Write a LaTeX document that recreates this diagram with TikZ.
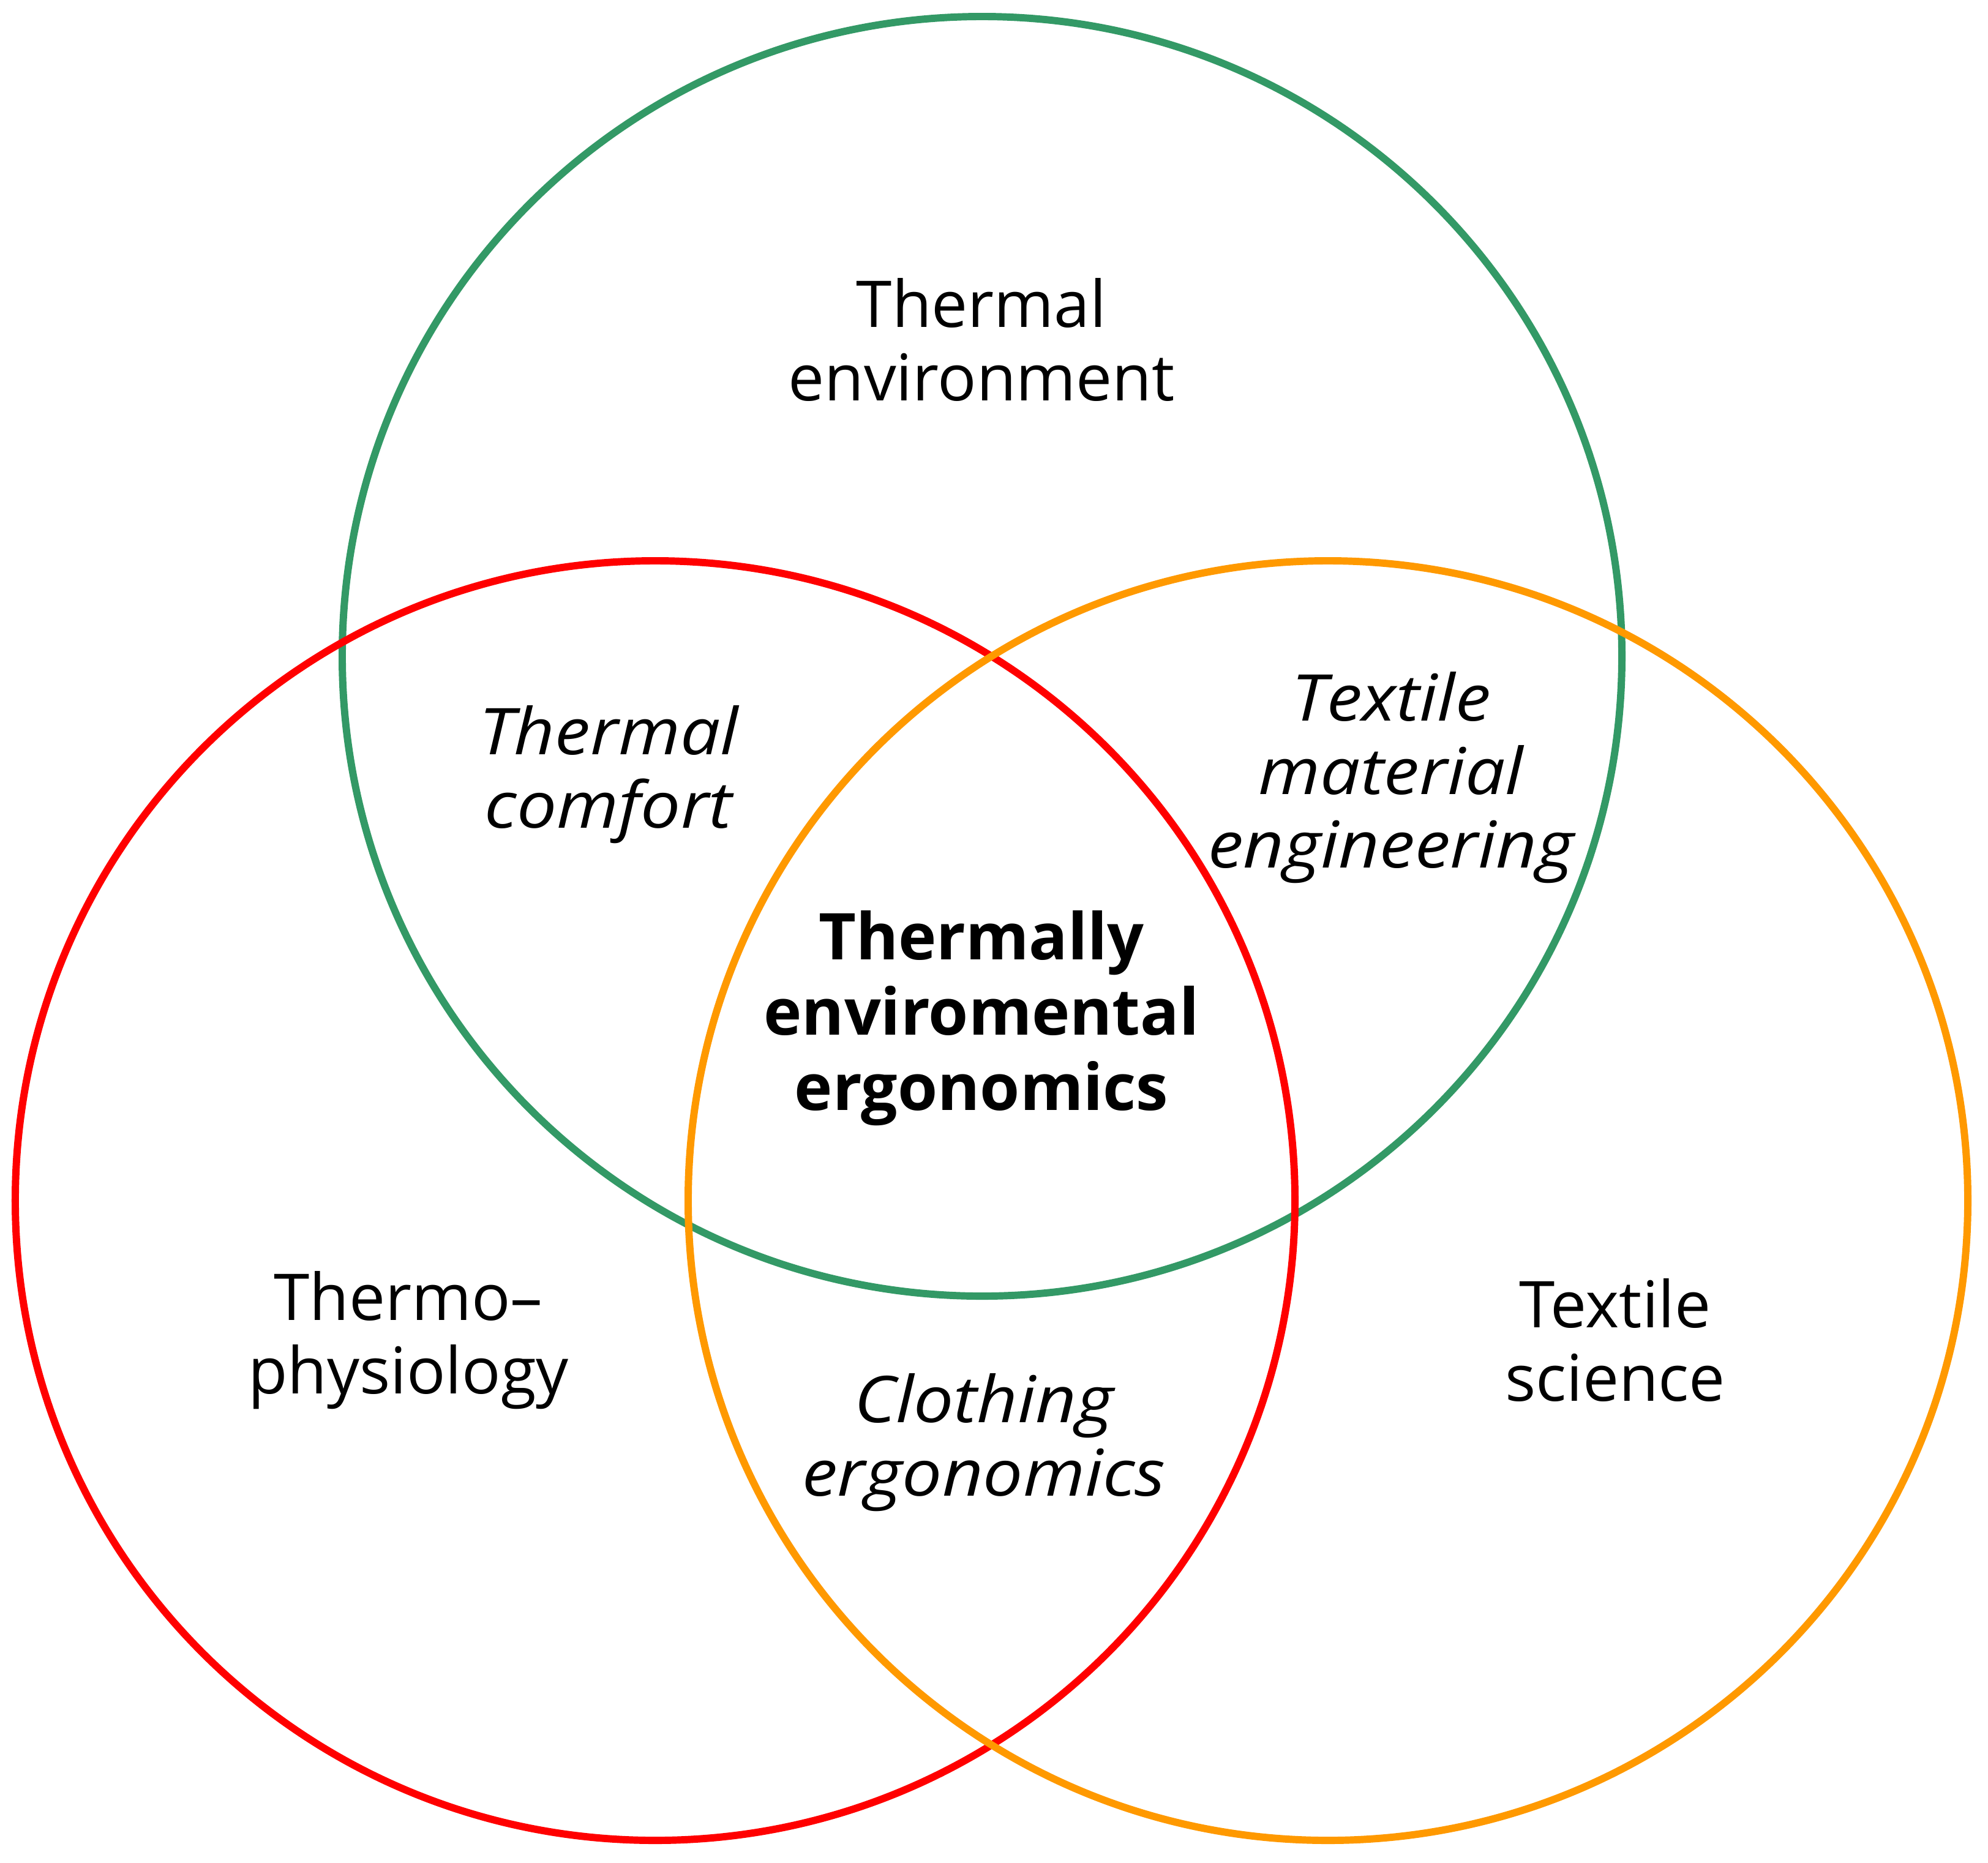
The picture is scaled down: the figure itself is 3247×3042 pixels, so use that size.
\documentclass[tikz,border=0pt]{standalone}
\usepackage{fontspec}
\setmainfont{Open Sans}
\usepackage{tikz}
\definecolor{envgreen}{HTML}{339966}
\definecolor{physred}{HTML}{FF0000}
\definecolor{texorange}{HTML}{FF9900}
\tikzset{ring/.style={line width=1.7pt},lbl/.style={align=center,font=\fontsize{15}{17.1}\selectfont,inner sep=0pt},ilbl/.style={lbl,font=\fontsize{15}{17.1}\selectfont\itshape\addfontfeature{FakeStretch=1.1}},blbl/.style={lbl,font=\fontsize{15}{17.5}\selectfont\bfseries}}

\begin{document}
\begin{tikzpicture}[x=0.005cm,y=-0.005cm]
\useasboundingbox (0,0) rectangle (3247,3042);
\coordinate (cenv) at (1604,1072);
\coordinate (cphys) at (1070,1961);
\coordinate (ctex) at (2169,1961);
\draw[ring,draw=envgreen] (cenv) circle[radius=5.23cm];
\draw[ring,draw=physred] (cphys) circle[radius=5.23cm];
\draw[ring,draw=texorange] (ctex) circle[radius=5.23cm];
\node[lbl] (env) at (1603,555) {Thermal\\environment};
\node[ilbl] (comfort) at (994,1265) {Thermal\\comfort};
\node[ilbl] (mateng) at (2272,1270) {Textile\\material\\engineering};
\node[blbl] (core) at (1603,1663) {Thermally\\enviromental\\ergonomics};
\node[lbl] (phys) at (667,2189) {Thermo–\\physiology};
\node[lbl] (tex) at (2638,2189) {Textile\\science};
\node[ilbl] (cloth) at (1607,2356) {Clothing\\ergonomics};
\end{tikzpicture}
\end{document}
